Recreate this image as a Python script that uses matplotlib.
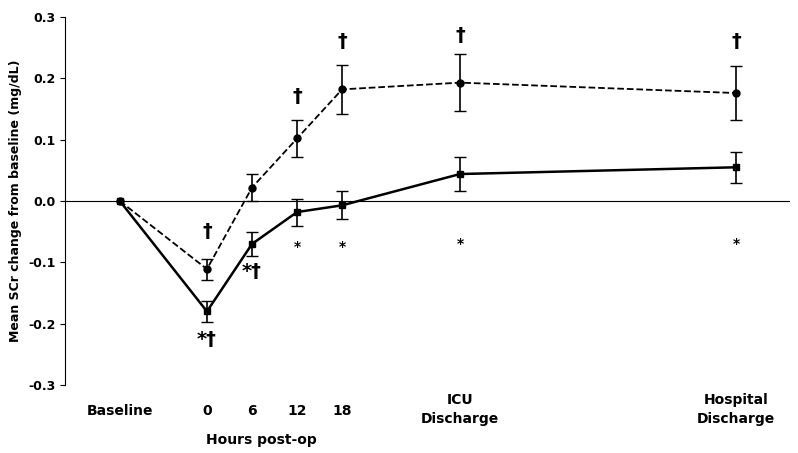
import matplotlib.pyplot as plt
import numpy as np

# x positions (hours scale; baseline / discharge placed on the same axis)
x_pos = [-11.6, 0, 6, 12, 18, 33.7, 70.5]
dashed_vals = [0, -0.111, 0.022, 0.102, 0.182, 0.193, 0.176]
dashed_err = [0, 0.017, 0.022, 0.030, 0.040, 0.046, 0.044]
solid_vals = [0, -0.180, -0.070, -0.018, -0.007, 0.044, 0.055]
solid_err = [0, 0.017, 0.020, 0.022, 0.023, 0.028, 0.025]

fig = plt.figure(figsize=(7.98, 4.53), dpi=100)
ax = fig.add_axes([0.0815, 0.150, 0.909, 0.8125])

ax.errorbar(x_pos[1:], dashed_vals[1:], yerr=dashed_err[1:], fmt='none', ecolor='black', capsize=4, lw=1.2)
ax.errorbar(x_pos[1:], solid_vals[1:], yerr=solid_err[1:], fmt='none', ecolor='black', capsize=4, lw=1.2)
ax.plot(x_pos, dashed_vals, 'k--', marker='o', ms=5, lw=1.3)
ax.plot(x_pos, solid_vals, 'k-', marker='s', ms=5, lw=1.8)

ax.set_xlim(-18.9, 77.7)
ax.set_ylim(-0.3, 0.3)
ax.set_yticks(np.arange(-0.3, 0.31, 0.1))
ax.set_yticklabels(['-0.3', '-0.2', '-0.1', '0.0', '0.1', '0.2', '0.3'], fontweight='bold', fontsize=9)
ax.spines['top'].set_visible(False)
ax.spines['right'].set_visible(False)
ax.spines['bottom'].set_visible(False)
ax.axhline(0, color='black', lw=0.8)
ax.set_xticks([])
ax.set_ylabel('Mean SCr change from baseline (mg/dL)', fontweight='bold', fontsize=9)

# dagger / star annotations
dag = dict(ha='center', va='center', fontsize=14, fontweight='bold')
for x, y in [(0, -0.05), (12, 0.17), (18, 0.26), (33.7, 0.27), (70.5, 0.26)]:
    ax.text(x, y, '†', **dag)
ax.text(0, -0.225, '*†', **dag)
ax.text(6, -0.115, '*†', **dag)
for x, y in [(12, -0.075), (18, -0.075), (33.7, -0.07), (70.5, -0.07)]:
    ax.text(x, y, '*', ha='center', va='center', fontsize=10, fontweight='bold')

# x labels
lab = dict(ha='center', va='center', fontsize=10, fontweight='bold', clip_on=False)
ylab = -0.343
ax.text(-11.6, ylab, 'Baseline', **lab)
for h in [0, 6, 12, 18]:
    ax.text(h, ylab, str(h), **lab)
ax.text(7.3, -0.39, 'Hours post-op', **lab)
ax.text(33.7, -0.34, 'ICU\nDischarge', linespacing=1.4, **lab)
ax.text(70.5, -0.34, 'Hospital\nDischarge', linespacing=1.4, **lab)

fig.savefig('out.png')
